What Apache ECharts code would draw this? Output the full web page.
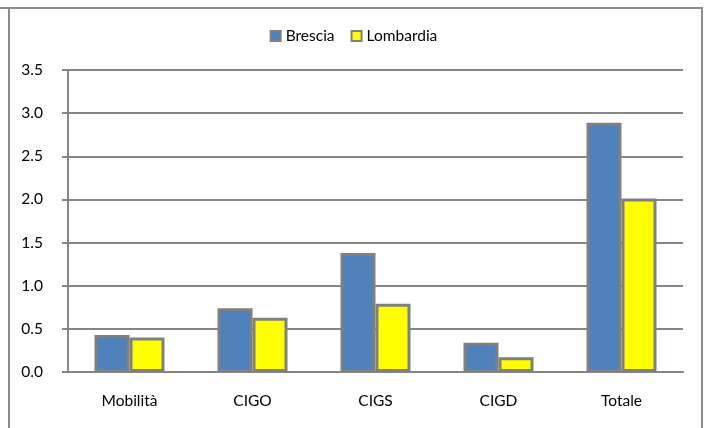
<!DOCTYPE html>
<html>
<head>
<meta charset="utf-8">
<script src="https://cdn.jsdelivr.net/npm/echarts@6/dist/echarts.min.js"></script>
<style>html,body{margin:0;padding:0;background:#fff}#c{width:707px;height:428px}</style>
</head>
<body>
<div id="c"></div>
<script>
const categories = ['Mobilità', 'CIGO', 'CIGS', 'CIGD', 'Totale'];
const brescia = [0.43, 0.74, 1.38, 0.34, 2.89];
const lombardia = [0.40, 0.63, 0.79, 0.17, 2.01];
const yTicks = { min: 0, max: 3.5, interval: 0.5 };

const chart = echarts.init(document.getElementById('c'));
const fontFamily = 'Lato, "Open Sans", sans-serif';
chart.setOption({
  animation: false,
  backgroundColor: '#fff',
  graphic: [
    { type: 'line', shape: { x1: 0, y1: 8, x2: 703, y2: 8 }, style: { stroke: '#8c8c8c', lineWidth: 2 } },
    { type: 'line', shape: { x1: 9, y1: 8, x2: 9, y2: 428 }, style: { stroke: '#8c8c8c', lineWidth: 2 } },
    { type: 'line', shape: { x1: 702, y1: 8, x2: 702, y2: 428 }, style: { stroke: '#8c8c8c', lineWidth: 2 } }
  ],
  legend: {
    top: 23,
    left: 'center',
    itemWidth: 10,
    itemHeight: 10,
    itemGap: 16,
    textStyle: { fontFamily, fontSize: 15.5, color: '#000' },
    data: [
      { name: 'Brescia', icon: 'rect', itemStyle: { borderColor: '#808080', borderWidth: 2 } },
      { name: 'Lombardia', icon: 'rect', itemStyle: { borderColor: '#808080', borderWidth: 2 } }
    ]
  },
  grid: { left: 68, right: 24, top: 70, bottom: 56, containLabel: false },
  xAxis: {
    type: 'category',
    data: categories,
    axisLine: { lineStyle: { color: '#868686', width: 2 } },
    axisTick: { show: false },
    axisLabel: { color: '#000', fontFamily, fontSize: 15.5, margin: 21 }
  },
  yAxis: {
    type: 'value',
    min: yTicks.min, max: yTicks.max, interval: yTicks.interval,
    axisLine: { show: true, lineStyle: { color: '#868686', width: 2 } },
    axisTick: { show: true, length: 6, lineStyle: { color: '#868686', width: 2 } },
    splitLine: { lineStyle: { color: '#868686', width: 2 } },
    axisLabel: { color: '#000', fontFamily, fontSize: 15.5, margin: 25, formatter: v => v.toFixed(1) }
  },
  series: [
    {
      name: 'Brescia', type: 'bar', data: brescia, barWidth: 35, barGap: '0%',
      itemStyle: { color: '#4F81BD', borderColor: '#808080', borderWidth: 3 }
    },
    {
      name: 'Lombardia', type: 'bar', data: lombardia, barWidth: 35,
      itemStyle: { color: '#FFFF00', borderColor: '#808080', borderWidth: 3 }
    }
  ]
});
</script>
</body>
</html>
